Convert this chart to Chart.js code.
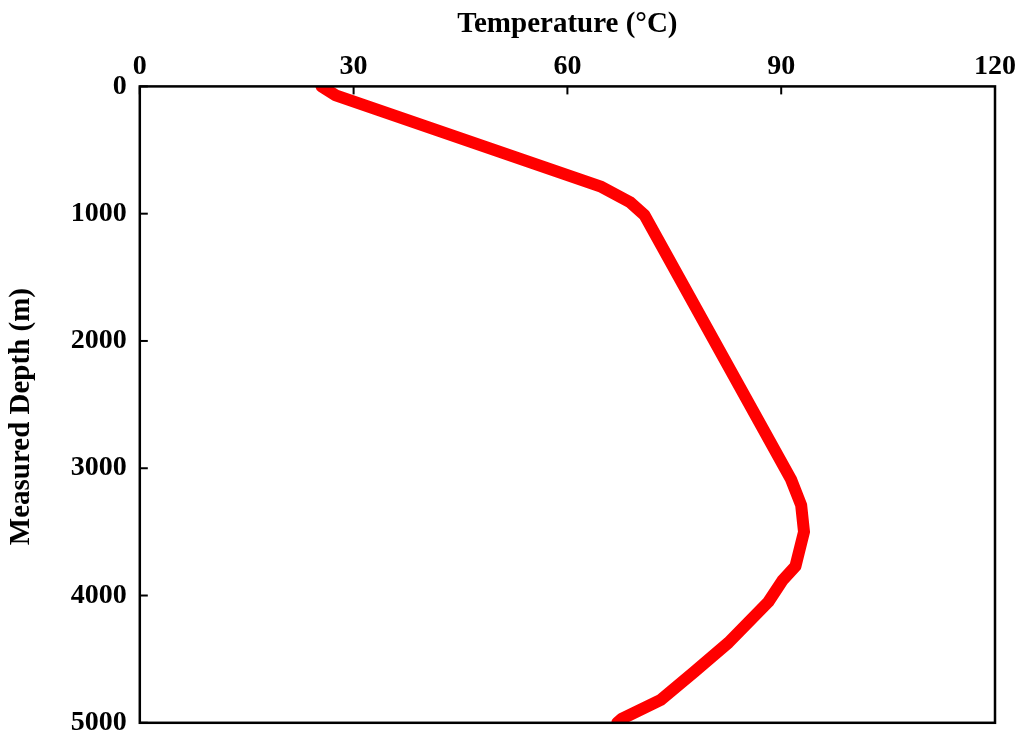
<!DOCTYPE html>
<html><head><meta charset="utf-8">
<script src="https://cdn.jsdelivr.net/npm/chart.js@4.4.1/dist/chart.umd.min.js"></script>
<style>html,body{margin:0;padding:0;background:#fff}#wrap{width:1019px;height:747px}</style>
</head><body><div id="wrap"><canvas id="c" width="1019" height="747"></canvas></div>
<script>
const temperature = [25.5, 27.5, 64.8, 68.8, 70.8, 91.4, 92.8, 93.2, 92.0, 90.2, 88.2, 82.6, 77.8, 73.1, 67.6, 67.0];
const depth       = [0,    70,   790,  910,  1010, 3090, 3290, 3500, 3770, 3880, 4050, 4370, 4600, 4820, 4970, 5000];
const xTicks = [0, 30, 60, 90, 120];
const yTicks = [0, 1000, 2000, 3000, 4000, 5000];
const xTitle = 'Temperature (°C)';
const yTitle = 'Measured Depth (m)';

const points = temperature.map((t, i) => ({x: t, y: depth[i]}));
const family = '"Liberation Serif", "Times New Roman", serif';
const font = {family: family, weight: 'bold', size: 28};
const yFont = {family: family, weight: 'bold', size: 28, lineHeight: 0.8};
const titleFont = {family: family, weight: 'bold', size: 29};

const framePlugin = {
  id: 'frame',
  afterDraw(chart) {
    const {ctx, chartArea: a, scales} = chart;
    ctx.save();
    ctx.strokeStyle = '#000';
    ctx.lineWidth = 2.5;
    ctx.strokeRect(a.left, a.top, a.right - a.left, a.bottom - a.top);
    ctx.lineWidth = 2;
    const len = 8;
    xTicks.forEach(v => {
      const px = scales.x.getPixelForValue(v);
      ctx.beginPath(); ctx.moveTo(px, a.top); ctx.lineTo(px, a.top + len); ctx.stroke();
    });
    yTicks.forEach(v => {
      const py = scales.y.getPixelForValue(v);
      ctx.beginPath(); ctx.moveTo(a.left, py); ctx.lineTo(a.left + len, py); ctx.stroke();
    });
    // y-axis title, slightly below the plot's centre as in the reference
    ctx.translate(scales.y.left + titleFont.size * 0.6, (a.top + a.bottom) / 2 + 12);
    ctx.rotate(-Math.PI / 2);
    ctx.font = 'bold ' + titleFont.size + 'px ' + family;
    ctx.fillStyle = '#000';
    ctx.textAlign = 'center';
    ctx.textBaseline = 'middle';
    ctx.fillText(yTitle, 0, 0);
    ctx.restore();
  }
};

new Chart(document.getElementById('c'), {
  type: 'scatter',
  data: {datasets: [{
    data: points, showLine: true, borderColor: '#ff0000', backgroundColor: '#ff0000',
    borderWidth: 12, pointRadius: 0, tension: 0, borderJoinStyle: 'round', borderCapStyle: 'round'
  }]},
  options: {
    responsive: false, animation: false,
    layout: {padding: {left: 4, right: 6, top: 7, bottom: 0}},
    plugins: {legend: {display: false}, tooltip: {enabled: false}},
    scales: {
      x: {
        type: 'linear', position: 'top', min: 0, max: 120,
        afterBuildTicks: s => { s.ticks = xTicks.map(v => ({value: v})); },
        grid: {display: false, drawTicks: false},
        border: {display: false},
        ticks: {color: '#000', font: font, padding: 3, maxRotation: 0, callback: v => String(v)},
        title: {display: true, text: xTitle, color: '#000', font: titleFont, padding: {top: 0, bottom: 5}}
      },
      y: {
        type: 'linear', reverse: true, min: 0, max: 5000,
        afterBuildTicks: s => { s.ticks = yTicks.map(v => ({value: v})); },
        grid: {display: false, drawTicks: false},
        border: {display: false},
        ticks: {color: '#000', font: yFont, padding: 13, callback: v => String(v)},
        title: {display: true, text: yTitle, color: 'rgba(0,0,0,0)', font: titleFont, padding: {top: 0, bottom: 19}}
      }
    }
  },
  plugins: [framePlugin]
});
</script></body></html>
